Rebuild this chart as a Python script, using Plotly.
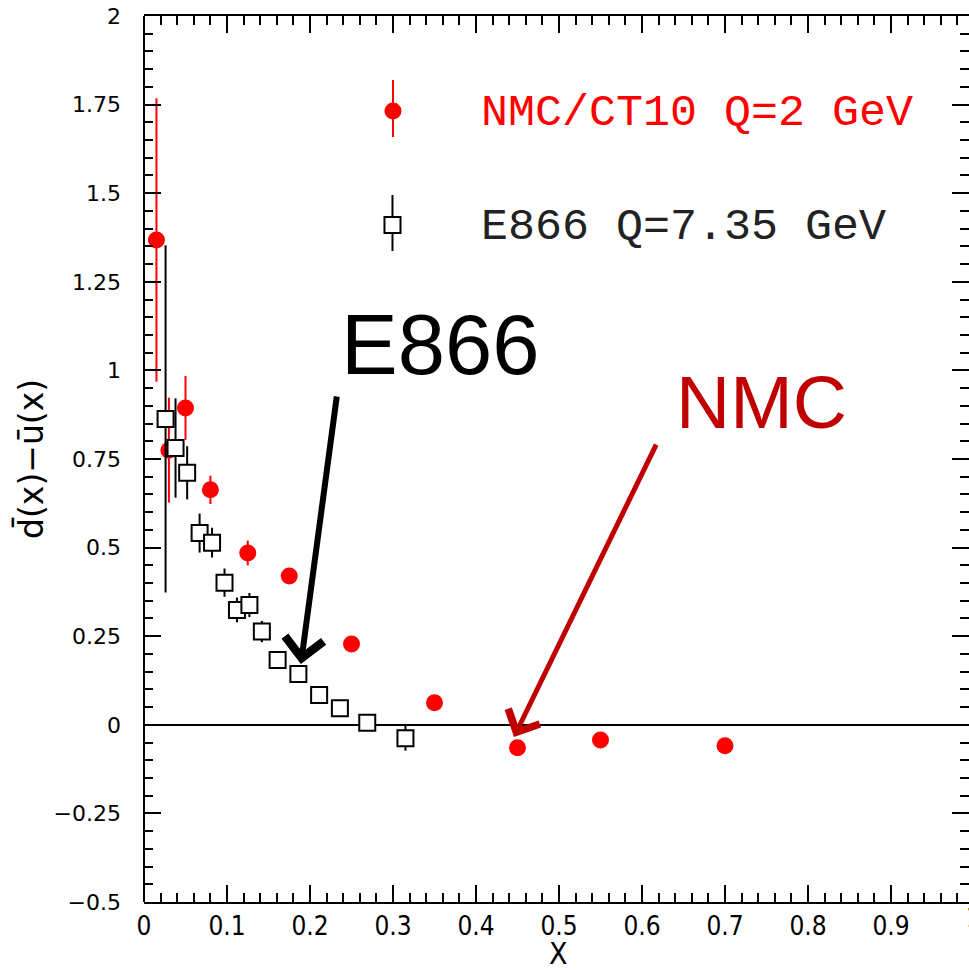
import plotly.graph_objects as go

# NMC / CT10 at Q = 2 GeV
nmc_x = [0.015, 0.03, 0.05, 0.08, 0.125, 0.175, 0.25, 0.35, 0.45, 0.55, 0.70]
nmc_y = [1.368, 0.775, 0.894, 0.663, 0.485, 0.420, 0.228, 0.062, -0.065, -0.043, -0.059]
nmc_err = [0.40, 0.148, 0.09, 0.04, 0.035, 0.012, 0.008, 0.006, 0.005, 0.005, 0.005]

# E866 at Q = 7.35 GeV
e866_x = [0.026, 0.038, 0.052, 0.067, 0.082, 0.097, 0.112, 0.127, 0.142,
          0.161, 0.186, 0.211, 0.236, 0.269, 0.315]
e866_y = [0.863, 0.781, 0.711, 0.541, 0.514, 0.401, 0.324, 0.338, 0.263,
          0.183, 0.143, 0.084, 0.047, 0.006, -0.038]
e866_err = [0.49, 0.14, 0.075, 0.055, 0.042, 0.04, 0.035, 0.034, 0.03,
            0.015, 0.015, 0.015, 0.015, 0.02, 0.035]

x_ticks = [0, 0.1, 0.2, 0.3, 0.4, 0.5, 0.6, 0.7, 0.8, 0.9]
x_labels = ["0", "0.1", "0.2", "0.3", "0.4", "0.5", "0.6", "0.7", "0.8", "0.9"]
y_ticks = [-0.5, -0.25, 0, 0.25, 0.5, 0.75, 1, 1.25, 1.5, 1.75, 2]
y_labels = ["\u22120.5", "\u22120.25", "0", "0.25", "0.5", "0.75", "1",
            "1.25", "1.5", "1.75", "2"]

RED = "#ff0000"
DARKRED = "#c00000"
NARROW = "Liberation Sans Narrow, DejaVu Sans Condensed, Arial Narrow, sans-serif"
MONO = "Liberation Mono, DejaVu Sans Mono, monospace"

fig = go.Figure()

fig.add_trace(go.Scatter(
    x=nmc_x, y=nmc_y, mode="markers",
    marker=dict(symbol="circle", size=17, color=RED, line=dict(width=0)),
    error_y=dict(type="data", array=nmc_err, color=RED, thickness=2, width=0),
    showlegend=False, cliponaxis=False,
))

fig.add_trace(go.Scatter(
    x=e866_x, y=e866_y, mode="markers",
    marker=dict(symbol="square", size=16, color="white",
                line=dict(width=2, color="black")),
    error_y=dict(type="data", array=e866_err, color="black", thickness=2, width=0),
    showlegend=False, cliponaxis=False,
))

shapes = [
    # left frame edge
    dict(type="line", xref="paper", yref="paper", x0=0, x1=0, y0=0, y1=1,
         line=dict(color="black", width=2), layer="above"),
    # legend key: NMC
    dict(type="line", xref="paper", yref="paper", x0=0.3018, x1=0.3018,
         y0=0.8634, y1=0.9278, line=dict(color=RED, width=2)),
    dict(type="circle", xref="paper", yref="paper",
         x0=0.3018 - 0.0103, x1=0.3018 + 0.0103,
         y0=0.8928 - 0.0096, y1=0.8928 + 0.0096,
         fillcolor=RED, line=dict(width=0)),
    # legend key: E866
    dict(type="line", xref="paper", yref="paper", x0=0.3012, x1=0.3012,
         y0=0.7348, y1=0.798, line=dict(color="black", width=2)),
    dict(type="rect", xref="paper", yref="paper",
         x0=0.3012 - 0.0097, x1=0.3012 + 0.0097,
         y0=0.7641 - 0.009, y1=0.7641 + 0.009,
         fillcolor="white", line=dict(color="black", width=2)),
]

annotations = [
    # legend labels
    dict(text="NMC/CT10 Q=2 GeV", xref="paper", yref="paper", x=0.4060, y=0.8895,
         xanchor="left", yanchor="middle", showarrow=False,
         font=dict(family=MONO, size=45, color=RED)),
    dict(text="E866 Q=7.35 GeV", xref="paper", yref="paper", x=0.4060, y=0.7608,
         xanchor="left", yanchor="middle", showarrow=False,
         font=dict(family=MONO, size=45, color="#222222")),
    # big labels
    dict(text="E866", xref="paper", yref="paper", x=0.3588, y=0.6292,
         xanchor="center", yanchor="middle", showarrow=False,
         font=dict(family="Liberation Sans, Arial, sans-serif", size=85, color="black")),
    dict(text="NMC", xref="paper", yref="paper", x=0.7479, y=0.5638,
         xanchor="center", yanchor="middle", showarrow=False,
         font=dict(family="Liberation Sans, Arial, sans-serif", size=75, color=DARKRED)),
    # arrows
    dict(text="", x=0.189, y=0.1716, ax=0.2325, ay=0.9306, xref="x", yref="y",
         axref="x", ayref="y", showarrow=True, arrowhead=4, arrowsize=1.25,
         arrowwidth=6, arrowcolor="black", standoff=0),
    dict(text="", x=0.4458, y=-0.0344, ax=0.618, ay=0.795, xref="x", yref="y",
         axref="x", ayref="y", showarrow=True, arrowhead=4, arrowsize=1.35,
         arrowwidth=5, arrowcolor=DARKRED, standoff=0),
    # axis titles
    dict(text="d\u0304(x)\u2212u\u0304(x)", xref="paper", yref="paper",
         x=-0.137, y=0.5, textangle=-90, xanchor="center", yanchor="middle",
         showarrow=False, font=dict(family="DejaVu Sans", size=33, color="black")),
    dict(text="X", xref="paper", yref="paper", x=0.503, y=-0.058,
         xanchor="center", yanchor="middle", showarrow=False,
         font=dict(family=NARROW, size=30, color="black")),
    # last x tick label, at the far edge
    dict(text="1", xref="paper", yref="paper", x=1.006, y=-0.0185,
         xanchor="center", yanchor="middle", showarrow=False,
         font=dict(family=NARROW, size=26, color="black")),
]

fig.update_layout(
    width=969, height=971,
    margin=dict(l=144, r=0, t=16, b=69),
    paper_bgcolor="white", plot_bgcolor="white",
    shapes=shapes, annotations=annotations,
    xaxis=dict(
        range=[0, 0.994], tickmode="array", tickvals=x_ticks, ticktext=x_labels,
        ticks="inside", ticklen=17, tickwidth=1.5, tickcolor="black",
        minor=dict(dtick=0.02, tick0=0, ticks="inside", ticklen=9,
                   tickwidth=1.5, tickcolor="black"),
        showline=True, linewidth=2, linecolor="black", mirror="ticks",
        showgrid=False, zeroline=False,
        tickfont=dict(family=NARROW, size=26, color="black"),
    ),
    yaxis=dict(
        range=[-0.5, 2], tickmode="array", tickvals=y_ticks, ticktext=y_labels,
        ticks="inside", ticklen=17, tickwidth=1.5, tickcolor="black",
        minor=dict(dtick=0.05, tick0=0, ticks="inside", ticklen=9,
                   tickwidth=1.5, tickcolor="black"),
        showline=False, mirror="ticks",
        showgrid=False, zeroline=True, zerolinecolor="black", zerolinewidth=2,
        ticklabelstandoff=22,
        tickfont=dict(family="DejaVu Sans", size=22, color="black"),
    ),
)

fig.write_html("out.html")
